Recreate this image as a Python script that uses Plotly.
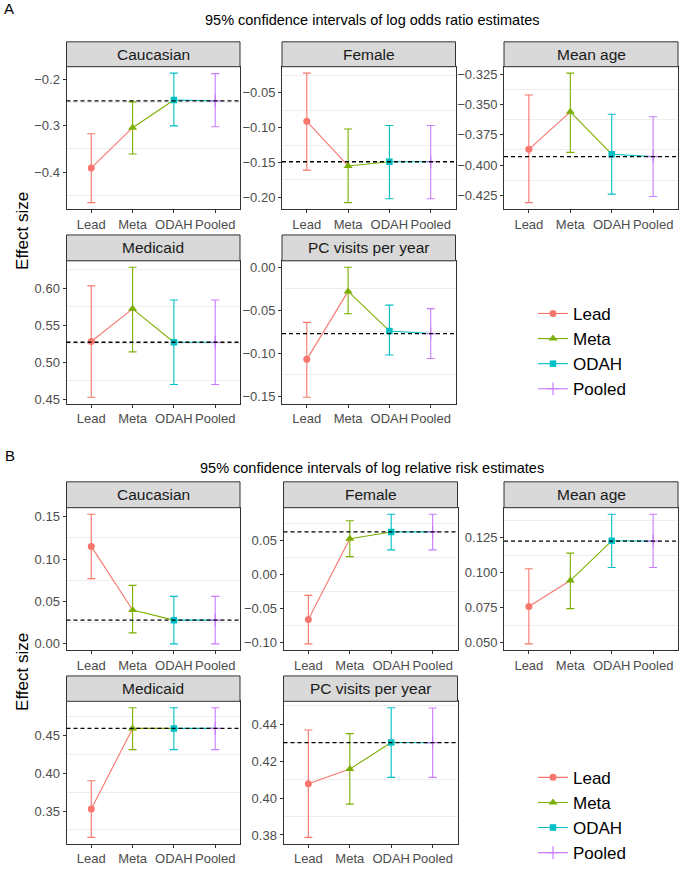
import plotly.graph_objects as go

# ---------------- data ----------------
methods = ["Lead", "Meta", "ODAH", "Pooled"]
covariates = ["Caucasian", "Female", "Mean age", "Medicaid", "PC visits per year"]

# Panel A: log odds ratio estimates (per covariate, values for Lead, Meta, ODAH, Pooled)
or_est = [
    [-0.391, -0.304, -0.244, -0.246],
    [-0.091, -0.155, -0.149, -0.149],
    [-0.387, -0.356, -0.391, -0.393],
    [0.528, 0.572, 0.527, 0.527],
    [-0.107, -0.028, -0.074, -0.077],
]
or_lo = [
    [-0.466, -0.361, -0.300, -0.302],
    [-0.161, -0.2075, -0.202, -0.202],
    [-0.431, -0.3895, -0.424, -0.426],
    [0.453, 0.514, 0.470, 0.470],
    [-0.151, -0.054, -0.102, -0.106],
]
or_hi = [
    [-0.317, -0.248, -0.186, -0.187],
    [-0.022, -0.102, -0.097, -0.097],
    [-0.342, -0.324, -0.358, -0.360],
    [0.603, 0.628, 0.584, 0.584],
    [-0.064, 0.000, -0.044, -0.048],
]
or_ticks = [
    [-0.4, -0.3, -0.2],
    [-0.20, -0.15, -0.10, -0.05],
    [-0.425, -0.400, -0.375, -0.350, -0.325],
    [0.45, 0.50, 0.55, 0.60],
    [-0.15, -0.10, -0.05, 0.00],
]
or_fmt = [".1f", ".2f", ".3f", ".2f", ".2f"]

# Panel B: log relative risk estimates
rr_est = [
    [0.115, 0.040, 0.028, 0.028],
    [-0.0665, 0.0525, 0.0623, 0.0625],
    [0.076, 0.0945, 0.1229, 0.1227],
    [0.3526, 0.4592, 0.4592, 0.4592],
    [0.4078, 0.4157, 0.4301, 0.4300],
]
rr_lo = [
    [0.077, 0.013, 0.000, 0.000],
    [-0.1025, 0.026, 0.036, 0.036],
    [0.0493, 0.0745, 0.1038, 0.1038],
    [0.3152, 0.4312, 0.4312, 0.4312],
    [0.3787, 0.3967, 0.4112, 0.4112],
]
rr_hi = [
    [0.153, 0.069, 0.056, 0.056],
    [-0.031, 0.079, 0.0886, 0.0886],
    [0.1029, 0.1141, 0.1419, 0.1419],
    [0.390, 0.4864, 0.4864, 0.4864],
    [0.4369, 0.4349, 0.4489, 0.4488],
]
rr_ticks = [
    [0.00, 0.05, 0.10, 0.15],
    [-0.10, -0.05, 0.00, 0.05],
    [0.050, 0.075, 0.100, 0.125],
    [0.35, 0.40, 0.45],
    [0.38, 0.40, 0.42, 0.44],
]
rr_fmt = [".2f", ".2f", ".3f", ".2f", ".2f"]

title_a = "95% confidence intervals of log odds ratio estimates"
title_b = "95% confidence intervals of log relative risk estimates"

# ---------------- styling ----------------
colors = ["#F8766D", "#7CAE00", "#00BFC4", "#C77CFF"]
symbols = ["circle", "triangle-up", "square", "cross-thin"]
msizes = [7, 8, 6.5, 9]
FONT = "Liberation Sans, Arial, sans-serif"
W, H = 685, 886


def px(x):
    return x / W


def py(y):
    return 1 - y / H


sections = [
    dict(est=or_est, lo=or_lo, hi=or_hi, ticks=or_ticks, fmts=or_fmt, title=title_a, letter="A",
         cols=[(66.5, 240), (282, 455.5), (504, 678)],
         rows=[(66, 209), (261, 404.5)], strips=[(41, 66), (235, 261)],
         title_y=19, letter_xy=(9, 8), ylab_y=231, legend_y=352, legend="legend"),
    dict(est=rr_est, lo=rr_lo, hi=rr_hi, ticks=rr_ticks, fmts=rr_fmt, title=title_b, letter="B",
         cols=[(66.5, 240), (283.5, 457.5), (504, 678)],
         rows=[(509, 652.3), (703.5, 846.7)], strips=[(483, 509), (678, 703.5)],
         title_y=469, letter_xy=(10, 457), ylab_y=674, legend_y=818, legend="legend2"),
]

fig = go.Figure()
layout = dict(width=W, height=H, margin=dict(l=0, r=0, t=0, b=0),
              paper_bgcolor="white", plot_bgcolor="white",
              font=dict(family=FONT, color="#000000"))
shapes, annotations = [], []

k = 0
for s in sections:
    for j, cov in enumerate(covariates):
        k += 1
        r, c = j // 3, j % 3
        xname = "xaxis" if k == 1 else f"xaxis{k}"
        yname = "yaxis" if k == 1 else f"yaxis{k}"
        xr = "x" if k == 1 else f"x{k}"
        yr = "y" if k == 1 else f"y{k}"
        est, lo, hi = s["est"][j], s["lo"][j], s["hi"][j]

        # path segments coloured by starting method
        for i in range(len(methods) - 1):
            fig.add_trace(go.Scatter(
                x=[methods[i], methods[i + 1]], y=[est[i], est[i + 1]],
                mode="lines", line=dict(color=colors[i], width=1.1),
                xaxis=xr, yaxis=yr, showlegend=False, hoverinfo="skip"))

        # points with error bars
        for i, m in enumerate(methods):
            mk = dict(symbol=symbols[i], size=msizes[i], color=colors[i])
            if symbols[i] == "cross-thin":
                mk["line"] = dict(color=colors[i], width=1.2)
            fig.add_trace(go.Scatter(
                x=[m], y=[est[i]], mode="lines+markers", name=m,
                marker=mk, line=dict(color=colors[i], width=1.1),
                error_y=dict(type="data", symmetric=False,
                             array=[hi[i] - est[i]], arrayminus=[est[i] - lo[i]],
                             color=colors[i], thickness=1.1, width=4),
                xaxis=xr, yaxis=yr, legend=s["legend"],
                showlegend=(j == 0)))

        # axes
        x0p, x1p = s["cols"][c]
        y0p, y1p = s["rows"][r]
        ymin, ymax = min(lo), max(hi)
        span = ymax - ymin
        ticks = s["ticks"][j]
        step = ticks[1] - ticks[0]
        minor_vals = [t - step / 2 for t in ticks] + [ticks[-1] + step / 2]
        axis_common = dict(showline=True, mirror=True, linecolor="#333333", linewidth=1,
                           ticks="outside", ticklen=3, tickwidth=1, tickcolor="#333333",
                           tickfont=dict(family=FONT, size=13, color="#4D4D4D"),
                           zeroline=False, showgrid=False)
        layout[xname] = dict(axis_common, domain=[px(x0p), px(x1p)], anchor=yr,
                             type="category", categoryorder="array", categoryarray=methods,
                             range=[-0.6, 3.6])
        layout[yname] = dict(axis_common, domain=[py(y1p), py(y0p)], anchor=xr,
                             range=[ymin - 0.05 * span, ymax + 0.05 * span],
                             tickmode="array", tickvals=ticks, tickformat=s["fmts"][j],
                             minor=dict(tickmode="array", tickvals=minor_vals, showgrid=True,
                                        gridcolor="#EEEEEE", gridwidth=1, ticks=""))

        # dashed reference line at pooled estimate
        shapes.append(dict(type="line", xref=f"{xr} domain", x0=0, x1=1,
                           yref=yr, y0=est[3], y1=est[3], layer="above",
                           line=dict(color="black", width=1.3, dash="4px,3px")))

        # strip
        sy0, sy1 = s["strips"][r]
        shapes.append(dict(type="rect", xref="paper", yref="paper",
                           x0=px(x0p), x1=px(x1p), y0=py(sy1), y1=py(sy0),
                           fillcolor="#D9D9D9", line=dict(color="#333333", width=1)))
        annotations.append(dict(text=cov, xref="paper", yref="paper",
                                x=px((x0p + x1p) / 2), y=py((sy0 + sy1) / 2),
                                showarrow=False, xanchor="center", yanchor="middle",
                                font=dict(family=FONT, size=15.5, color="#1A1A1A")))

    # section title, letter, y label
    annotations.append(dict(text=s["title"], xref="paper", yref="paper",
                            x=px(372), y=py(s["title_y"]),
                            showarrow=False, xanchor="center", yanchor="middle",
                            font=dict(family=FONT, size=14.5, color="#000000")))
    annotations.append(dict(text=s["letter"], xref="paper", yref="paper",
                            x=px(s["letter_xy"][0]), y=py(s["letter_xy"][1]),
                            showarrow=False, xanchor="center", yanchor="middle",
                            font=dict(family=FONT, size=15, color="#000000")))
    annotations.append(dict(text="Effect size", xref="paper", yref="paper",
                            x=px(23), y=py(s["ylab_y"]), textangle=-90,
                            showarrow=False, xanchor="center", yanchor="middle",
                            font=dict(family=FONT, size=17, color="#000000")))
    layout[s["legend"]] = dict(x=px(533), y=py(s["legend_y"]), xanchor="left", yanchor="middle",
                               font=dict(family=FONT, size=17, color="#000000"),
                               bgcolor="rgba(0,0,0,0)", itemwidth=30, tracegroupgap=0)

layout["shapes"] = shapes
layout["annotations"] = annotations
layout["showlegend"] = True
fig.update_layout(**layout)
fig.write_html("out.html", config={"displayModeBar": False},
               post_script="document.body.style.margin='0';document.body.style.overflow='hidden';")
